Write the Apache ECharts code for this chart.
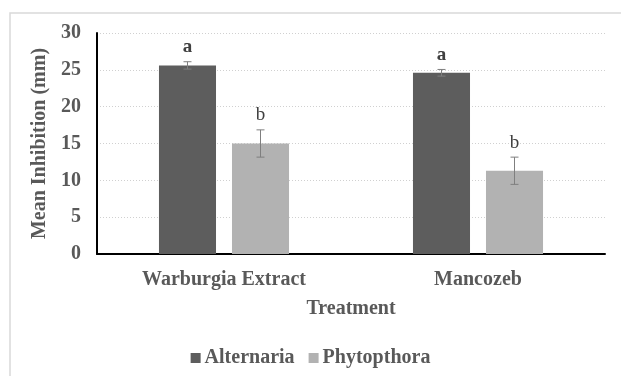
<!DOCTYPE html>
<html>
<head>
<meta charset="utf-8">
<script src="https://cdn.jsdelivr.net/npm/echarts@6/dist/echarts.min.js"></script>
<style>html,body{margin:0;padding:0;background:#fff}#c{width:621px;height:376px}</style>
</head>
<body>
<div id="c"></div>
<script>
const categories = ['Warburgia Extract', 'Mancozeb'];
const seriesNames = ['Alternaria', 'Phytopthora'];
const alternariaMean = [25.6, 24.6];
const alternariaErr = [0.5, 0.45];
const alternariaLetters = ['a', 'a'];
const phytopthoraMean = [15.0, 11.3];
const phytopthoraErr = [1.85, 1.85];
const phytopthoraLetters = ['b', 'b'];
const yTicks = [0, 5, 10, 15, 20, 25, 30];

const FONT = '"Liberation Serif", "Times New Roman", serif';
const TXT = '#595959';
const FS = 20;
const colors = ['#5d5d5d', '#b2b2b2'];
const CAT_GAP = 0.488, BAR_GAP = 0.28;

function errSeries(means, errs, letters, sideIdx, bold) {
  return {
    type: 'custom',
    z: 5,
    silent: true,
    data: means.map((m, i) => [i, m, errs[i]]),
    renderItem: function (params, api) {
      const ci = api.value(0), m = api.value(1), e = api.value(2);
      const letter = letters[params.dataIndex];
      const band = api.size([1, 0])[0];
      const w = band * (1 - CAT_GAP) / (2 + BAR_GAP);
      const off = (w / 2 + BAR_GAP * w / 2) * (sideIdx === 0 ? -1 : 1);
      const top = api.coord([ci, m + e]);
      const bot = api.coord([ci, m - e]);
      const x = top[0] + off;
      const cap = 4;
      const st = { stroke: '#7f7f7f', lineWidth: 1 };
      return {
        type: 'group',
        children: [
          { type: 'line', shape: { x1: x, y1: top[1], x2: x, y2: bot[1] }, style: st },
          { type: 'line', shape: { x1: x - cap, y1: top[1], x2: x + cap, y2: top[1] }, style: st },
          { type: 'line', shape: { x1: x - cap, y1: bot[1], x2: x + cap, y2: bot[1] }, style: st },
          { type: 'text', style: { text: letter, x: x, y: top[1] - 5, align: 'center', verticalAlign: 'bottom',
              font: (bold ? 'bold ' : '') + '19px ' + FONT, fill: '#404040' } }
        ]
      };
    }
  };
}

const chart = echarts.init(document.getElementById('c'), null, { renderer: 'canvas' });
chart.setOption({
  animation: false,
  backgroundColor: '#fff',
  textStyle: { fontFamily: FONT },
  graphic: [{ type: 'rect', shape: { x: 10, y: 13, width: 700, height: 450 },
    style: { fill: 'none', stroke: '#d9d9d9', lineWidth: 1.5 }, z: -10 }],
  grid: { left: 97, right: 16, top: 33, bottom: 122, containLabel: false },
  legend: {
    data: seriesNames, bottom: 3, left: 'center', icon: 'rect', itemWidth: 10, itemHeight: 10, itemGap: 14,
    textStyle: { fontFamily: FONT, fontSize: FS, fontWeight: 'bold', color: TXT, padding: [0, 0, 0, -1] }
  },
  xAxis: {
    type: 'category', data: categories,
    name: 'Treatment', nameLocation: 'middle', nameGap: 45,
    nameTextStyle: { fontFamily: FONT, fontSize: FS, fontWeight: 'bold', color: TXT },
    axisLine: { lineStyle: { color: '#000', width: 2 } },
    axisTick: { show: false },
    axisLabel: { fontFamily: FONT, fontSize: FS, fontWeight: 'bold', color: TXT, margin: 16 }
  },
  yAxis: {
    type: 'value', min: 0, max: 30, interval: 5,
    name: 'Mean Inhibition (mm)', nameLocation: 'middle', nameGap: 44, nameRotate: 90,
    nameTextStyle: { fontFamily: FONT, fontSize: FS, fontWeight: 'bold', color: TXT },
    axisLine: { show: true, lineStyle: { color: '#000', width: 2 } },
    axisTick: { show: false },
    axisLabel: { fontFamily: FONT, fontSize: FS, fontWeight: 'bold', color: TXT, margin: 16,
      formatter: v => yTicks.includes(v) ? String(v) : '' },
    splitLine: { lineStyle: { color: '#d0d0d0', type: [1, 2], width: 1 } }
  },
  series: [
    { name: seriesNames[0], type: 'bar', data: alternariaMean, itemStyle: { color: colors[0] },
      barGap: (BAR_GAP * 100) + '%', barCategoryGap: (CAT_GAP * 100) + '%' },
    { name: seriesNames[1], type: 'bar', data: phytopthoraMean, itemStyle: { color: colors[1] } },
    errSeries(alternariaMean, alternariaErr, alternariaLetters, 0, true),
    errSeries(phytopthoraMean, phytopthoraErr, phytopthoraLetters, 1, false)
  ]
});
</script>
</body>
</html>
